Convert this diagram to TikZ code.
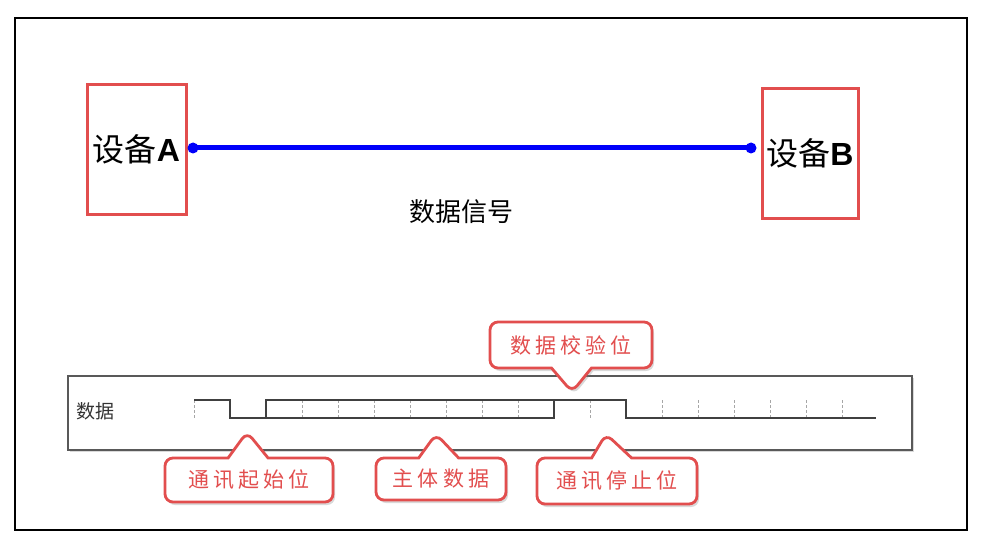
\documentclass[tikz,border=0pt]{standalone}
\usepackage{fontspec}
\setmainfont{Noto Sans CJK SC}
\newfontfamily\latinsans{Liberation Sans}
\usetikzlibrary{shapes.callouts,shadows}
\definecolor{boxred}{RGB}{226,78,78}
\definecolor{wireblue}{RGB}{0,0,250}

\begin{document}
\begin{tikzpicture}[
    x=1pt, y=-1pt,
    % device boxes at both ends of the wire
    device/.style={
        rectangle,
        draw=boxred,
        line width=3pt,
        minimum width=99pt,
        minimum height=129pt,
        inner sep=0pt,
        font=\fontsize{32}{34}\selectfont,
        },
    wire/.style={draw=wireblue, line width=5pt},
    panel/.style={
        rectangle,
        draw=black!65,
        line width=1.3pt,
        fill=white,
        minimum width=844pt,
        minimum height=74pt,
        drop shadow={shadow xshift=1.5pt, shadow yshift=-2pt, opacity=0.3},
        },
    wave/.style={draw=black!75, line width=1.2pt},
    tick/.style={draw=black!35, dash pattern=on 2.5pt off 2.5pt, line width=0.8pt},
    % red balloon notes
    note/.style={
        rectangle callout,
        draw=boxred,
        line width=2.8pt,
        fill=white,
        rounded corners=8pt,
        text=boxred,
        callout pointer width=40pt,
        font=\fontsize{21}{23}\selectfont\addfontfeature{LetterSpace=20},
        drop shadow={shadow xshift=2pt, shadow yshift=-3pt, opacity=0.3},
        },
    ]
    \useasboundingbox (0,0) rectangle (981,548);
    \draw[line width=2pt] (15,18) rectangle (967,530);

    \node [device] (devA) at (136.5,149.5) {设备{\latinsans\bfseries A}};
    \node [device, minimum width=96pt] (devB) at (810,153.5) {设备{\latinsans\bfseries B}};
    \coordinate (endA) at (193,148);
    \coordinate (endB) at (751,148);
    \draw [wire] (endA) -- (endB);
    \fill [wireblue] (endA) circle (5.5pt) (endB) circle (5.5pt);
    \node [font=\fontsize{26}{28}\selectfont] (sig) at (461,212) {数据信号};

    \node [panel] (track) at (490,413) {};
    \node [text=black!80, font=\fontsize{19}{21}\selectfont] (lbl) at (95,411) {数据};

    \foreach \x in {194,302,338,...,518,590,662,698,...,842}
        \draw [tick] (\x,400) -- (\x,418);
    \draw [wave] (194,400) -- (230,400) -- (230,418) -- (266,418) -- (266,400)
        -- (626,400) -- (626,418) -- (876,418);
    \draw [wave] (266,418) -- (554,418) -- (554,400);

    \coordinate (pStart) at (247,432);
    \coordinate (pBody) at (436,434);
    \coordinate (pStop) at (606,434);
    \coordinate (pCheck) at (572,392);
    \node [note, minimum width=162pt, minimum height=46pt, callout absolute pointer=(pCheck)]
        (check) at (571,345) {数据校验位};
    \node [note, minimum width=168pt, minimum height=44pt, callout absolute pointer=(pStart)]
        (start) at (249,480) {通讯起始位};
    \node [note, minimum width=130pt, minimum height=42pt, callout absolute pointer=(pBody)]
        (body) at (441,479) {主体数据};
    \node [note, minimum width=160pt, minimum height=46pt, callout absolute pointer=(pStop)]
        (stop) at (617,481) {通讯停止位};

\end{tikzpicture}
\end{document}
